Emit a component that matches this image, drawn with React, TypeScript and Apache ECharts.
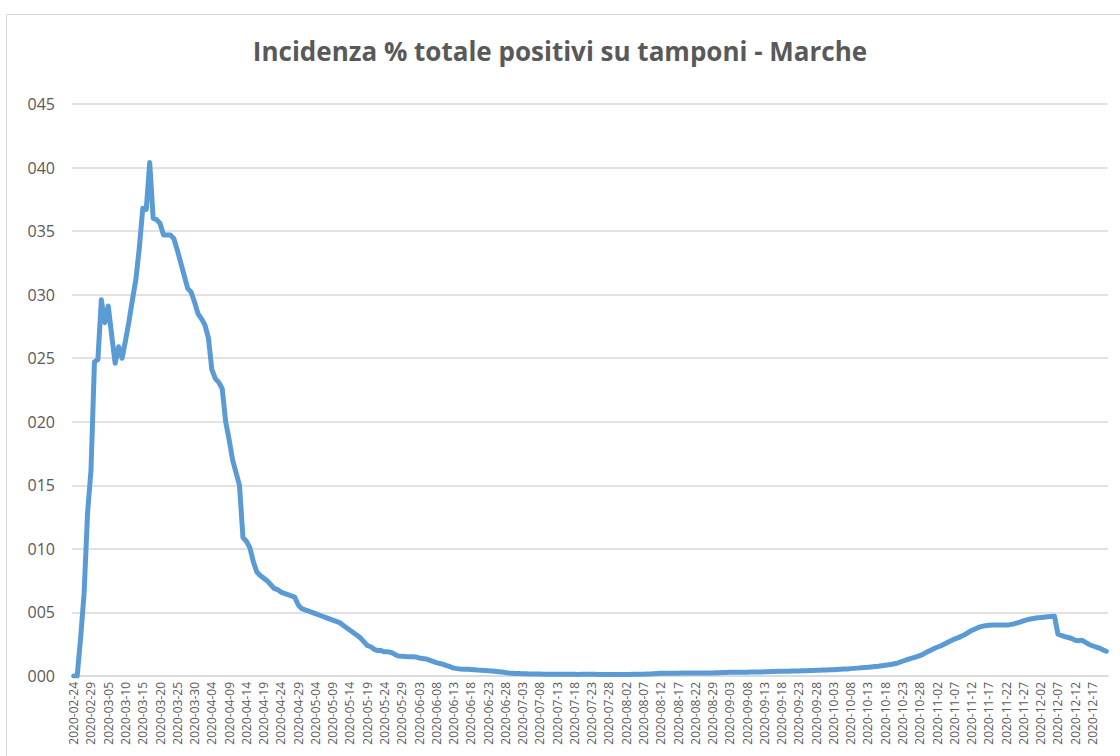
import React, { useEffect, useRef } from "react";
import * as echarts from "echarts";

const TITLE = "Incidenza % totale positivi su tamponi - Marche";

// Dates: daily from 2020-02-24 to 2020-12-21, with two days absent from the source data
const START_DATE = "2020-02-24";
const END_DATE = "2020-12-21";
const MISSING_DATES = ["2020-08-23", "2020-08-24"];

// Y tick labels as shown in the source (values 0.00 .. 0.45)
const Y_MIN = 0;
const Y_MAX = 0.45;
const Y_STEP = 0.05;

// Series values (share of positives over swabs)
const VALUES_FEB_MAR = [
  0, 0, 0.03, 0.065, 0.128, 0.162, 0.247, 0.249, 0.296, 0.278,
  0.291, 0.268, 0.246, 0.259, 0.25, 0.264, 0.279, 0.296, 0.312, 0.337,
  0.368, 0.367, 0.404, 0.36, 0.359, 0.356, 0.347, 0.347, 0.347, 0.344,
  0.335, 0.325, 0.315, 0.305, 0.302, 0.294, 0.285, 0.281, 0.276, 0.266,
];
const VALUES_APR_MAY = [
  0.241, 0.234, 0.231, 0.226, 0.2, 0.186, 0.17, 0.16, 0.15, 0.109,
  0.106, 0.101, 0.09, 0.082, 0.079, 0.077, 0.075, 0.072, 0.069, 0.068,
  0.066, 0.065, 0.064, 0.063, 0.062, 0.056, 0.053, 0.052, 0.051, 0.05,
  0.049, 0.048, 0.047, 0.046, 0.045, 0.044, 0.043, 0.042, 0.04, 0.038,
  0.036, 0.034, 0.032, 0.03, 0.027, 0.024, 0.023, 0.021, 0.02, 0.02,
  0.019, 0.019, 0.0185, 0.017, 0.0157, 0.0155, 0.0153, 0.0152, 0.0152, 0.015,
];
const VALUES_JUN_AUG = [
  0.0142, 0.0138, 0.0134, 0.0125, 0.0115, 0.0106, 0.0098, 0.0092, 0.0082, 0.0073,
  0.0062, 0.0058, 0.0055, 0.0054, 0.0053, 0.0051, 0.0049, 0.0047, 0.0046, 0.0044,
  0.0042, 0.004, 0.0037, 0.0034, 0.0031, 0.0027, 0.0024, 0.0022, 0.002, 0.0019,
  0.0018, 0.0017, 0.0016, 0.0016, 0.0015, 0.0015, 0.0014, 0.0014, 0.0014, 0.0013,
  0.0013, 0.0013, 0.0013, 0.0013, 0.0013, 0.0013, 0.0012, 0.0013, 0.0013, 0.0013,
  0.0013, 0.0013, 0.0012, 0.0012, 0.0012, 0.0012, 0.0012, 0.0012, 0.0012, 0.0012,
  0.0012, 0.0012, 0.0013, 0.0013, 0.0013, 0.0014, 0.0015, 0.0016, 0.0018, 0.002,
  0.0021, 0.0022, 0.0022, 0.0022, 0.0022, 0.0022, 0.0023, 0.0023, 0.0023, 0.0023,
];
const VALUES_SEP_OCT = [
  0.0023, 0.0023, 0.0024, 0.0024, 0.0024, 0.0024, 0.0025, 0.0026, 0.0027, 0.0028,
  0.0029, 0.0029, 0.003, 0.003, 0.003, 0.003, 0.0031, 0.0031, 0.0032, 0.0032,
  0.0033, 0.0034, 0.0035, 0.0036, 0.0037, 0.0038, 0.0038, 0.0038, 0.0039, 0.0039,
  0.004, 0.0041, 0.0042, 0.0043, 0.0044, 0.0045, 0.0046, 0.0047, 0.0048, 0.0049,
  0.005, 0.0052, 0.0054, 0.0055, 0.0056, 0.0058, 0.006, 0.0062, 0.0064, 0.0066,
  0.0068, 0.0071, 0.0074, 0.0077, 0.0081, 0.0085, 0.0089, 0.0093, 0.0098, 0.0106,
];
const VALUES_NOV_DEC = [
  0.0116, 0.0126, 0.0134, 0.0142, 0.015, 0.016, 0.0172, 0.0188, 0.02, 0.0214,
  0.0226, 0.0236, 0.025, 0.0264, 0.0278, 0.029, 0.03, 0.0312, 0.0325, 0.0342,
  0.0358, 0.037, 0.0382, 0.039, 0.0396, 0.04, 0.0402, 0.0402, 0.0402, 0.0402,
  0.0402, 0.0404, 0.0408, 0.0416, 0.0424, 0.0434, 0.0442, 0.0448, 0.0453, 0.0458,
  0.046, 0.0463, 0.0466, 0.0469, 0.047, 0.033, 0.032, 0.031, 0.0303, 0.0295,
  0.0282, 0.0278, 0.0281, 0.0265, 0.0248, 0.0238, 0.0228, 0.022, 0.0206, 0.0195,
];

const VALUES = [
  ...VALUES_FEB_MAR,
  ...VALUES_APR_MAY,
  ...VALUES_JUN_AUG,
  ...VALUES_SEP_OCT,
  ...VALUES_NOV_DEC,
];

function buildDates(start: string, end: string, missing: string[]): string[] {
  const out: string[] = [];
  const d = new Date(start + "T00:00:00Z");
  const e = new Date(end + "T00:00:00Z");
  while (d.getTime() <= e.getTime()) {
    const s = d.toISOString().slice(0, 10);
    if (!missing.includes(s)) out.push(s);
    d.setUTCDate(d.getUTCDate() + 1);
  }
  return out;
}

const DATES = buildDates(START_DATE, END_DATE, MISSING_DATES);

const FONT = "'Open Sans', 'Liberation Sans', sans-serif";
const TEXT_COLOR = "#595959";
const GRID_COLOR = "#d9d9d9";

export default function App() {
  const ref = useRef<HTMLDivElement>(null);

  useEffect(() => {
    if (!ref.current) return;
    const chart = echarts.init(ref.current, undefined, { renderer: "svg" });
    chart.setOption({
      animation: false,
      backgroundColor: "#ffffff",
      title: {
        text: TITLE,
        left: "center",
        top: 33,
        textStyle: {
          fontFamily: FONT,
          fontSize: 26,
          fontWeight: "bold",
          color: TEXT_COLOR,
        },
      },
      graphic: [
        {
          type: "rect",
          left: 4,
          top: 12,
          shape: { width: 1200, height: 800 },
          style: { fill: "none", stroke: GRID_COLOR, lineWidth: 1 },
          silent: true,
        },
      ],
      grid: { left: 72, right: 12, top: 104, bottom: 80, containLabel: false },
      xAxis: {
        type: "category",
        data: DATES,
        boundaryGap: true,
        axisLine: { show: true, lineStyle: { color: GRID_COLOR, width: 1.5 } },
        axisTick: { show: false },
        axisLabel: {
          interval: 4,
          rotate: 90,
          fontFamily: FONT,
          fontSize: 12,
          color: TEXT_COLOR,
          margin: 6,
        },
        splitLine: { show: false },
      },
      yAxis: {
        type: "value",
        min: Y_MIN,
        max: Y_MAX,
        interval: Y_STEP,
        axisLine: { show: false },
        axisTick: { show: false },
        axisLabel: {
          fontFamily: FONT,
          fontSize: 16,
          color: TEXT_COLOR,
          margin: 17,
          formatter: (v: number) => String(Math.round(v * 100)).padStart(3, "0"),
        },
        splitLine: { show: true, lineStyle: { color: GRID_COLOR, width: 1.5 } },
      },
      series: [
        {
          type: "line",
          data: VALUES,
          showSymbol: false,
          smooth: false,
          lineStyle: { color: "#5b9bd5", width: 5, join: "round", cap: "round" },
          itemStyle: { color: "#5b9bd5" },
        },
      ],
    });
    return () => chart.dispose();
  }, []);

  return (
    <div
      ref={ref}
      style={{ position: "fixed", left: 0, top: 0, width: 1120, height: 756 }}
    />
  );
}
